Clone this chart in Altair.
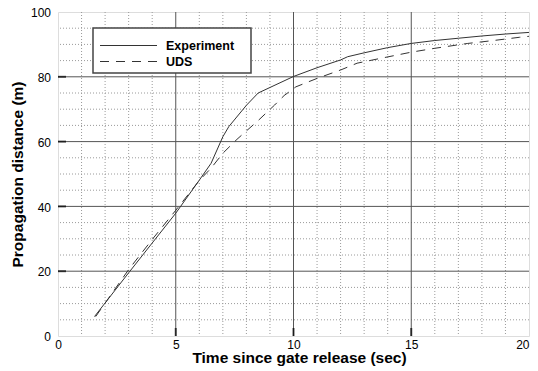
import altair as alt
import pandas as pd

# ---- data ----
exp_t = [1.55, 3, 4, 5, 6, 6.5, 7, 7.25, 8, 8.5, 9, 10, 11, 12, 12.3, 13, 14, 15, 16, 17, 18, 19, 20]
exp_d = [6, 19.5, 28.7, 37.9, 48.1, 53.3, 61.5, 64.6, 71.2, 75, 76.7, 80.1, 82.8, 85.2, 86.2, 87.4, 89, 90.3, 91.2, 91.9, 92.6, 93.2, 93.7]
uds_t = [1.6, 3, 4, 5, 6, 6.5, 7, 7.6, 8, 8.5, 9.2, 9.6, 10.1, 11, 12, 12.7, 13.7, 15, 16, 17.4, 18.5, 19.6, 20]
uds_d = [6, 20.5, 29.8, 38.8, 48, 51.8, 56.4, 60.7, 63.3, 66.5, 71.3, 74.2, 76.9, 79.5, 82.1, 84.2, 85.7, 87.6, 88.8, 90.3, 91.2, 92.2, 92.5]

x_major = [5, 10, 15]
x_minor = [1, 2, 3, 4, 6, 7, 8, 9, 11, 12, 13, 14, 16, 17, 18, 19]
y_major = [20, 40, 60, 80]
y_minor = [5, 10, 15, 25, 30, 35, 45, 50, 55, 65, 70, 75, 85, 90, 95]
x_labels = [0, 5, 10, 15, 20]
y_labels = [0, 20, 40, 60, 80, 100]
legend_labels = ["Experiment", "UDS"]

W, H = 471, 324
FONT = "Liberation Sans"

xscale = alt.Scale(domain=[0, 20], nice=False, zero=False)
yscale = alt.Scale(domain=[0, 100], nice=False, zero=False)
xaxis = alt.Axis(values=x_labels, title="Time since gate release (sec)", grid=False, ticks=False,
                 domain=False, labelFontSize=12, labelColor="black", labelFont=FONT,
                 labelPadding=3, labelAlign={"expr": "datum.value >= 20 ? 'right' : 'center'"},
                 titleFont=FONT, titleFontSize=15.5, titleFontWeight="bold",
                 titleColor="black", titleBaseline="alphabetic", titleY=26.5, titleX=241,
                 labelFlush=False)
yaxis = alt.Axis(values=y_labels, title="Propagation distance (m)", grid=False, ticks=False,
                 domain=False, labelFontSize=12, labelColor="black", labelFont=FONT,
                 labelPadding=7.5, labelOffset=0.6, titleFont=FONT, titleFontSize=15.5,
                 titleFontWeight="bold", titleColor="black", titleBaseline="alphabetic",
                 titleX=-36, labelFlush=False)


def X(f="t"):
    return alt.X(f"{f}:Q", scale=xscale, axis=xaxis)


def Y(f="d"):
    return alt.Y(f"{f}:Q", scale=yscale, axis=yaxis)


exp_df = pd.DataFrame({"t": exp_t, "d": exp_d})
uds_df = pd.DataFrame({"t": uds_t, "d": uds_d})

minor_x = alt.Chart(pd.DataFrame({"t": x_minor})).mark_rule(
    color="#9a9a9a", strokeWidth=1, strokeDash=[1, 2]).encode(x=X())
minor_y = alt.Chart(pd.DataFrame({"d": y_minor})).mark_rule(
    color="#9a9a9a", strokeWidth=1, strokeDash=[1, 2]).encode(y=Y())
major_x = alt.Chart(pd.DataFrame({"t": x_major})).mark_rule(
    color="#555555", strokeWidth=1).encode(x=X())
major_y = alt.Chart(pd.DataFrame({"d": y_major})).mark_rule(
    color="#555555", strokeWidth=1).encode(y=Y())

tick_x = alt.Chart(pd.DataFrame({"t": x_major})).mark_tick(
    color="black", thickness=2, size=8, orient="vertical").encode(x=X(), y=alt.value(H - 4))
tick_y = alt.Chart(pd.DataFrame({"d": y_major})).mark_tick(
    color="black", thickness=2, size=8, orient="horizontal").encode(y=Y(), x=alt.value(4))

exp_line = alt.Chart(exp_df).mark_line(color="#333333", strokeWidth=1).encode(x=X(), y=Y())
uds_line = alt.Chart(uds_df).mark_line(color="#333333", strokeWidth=1, strokeDash=[9, 7]).encode(x=X(), y=Y())

# legend (drawn as decoration)
box = alt.Chart(pd.DataFrame({"k": [0]})).mark_rect(
    fill="white", stroke="#444444", strokeWidth=1.5).encode(
    x=alt.value(35), x2=alt.value(193), y=alt.value(16), y2=alt.value(61))
leg1 = alt.Chart(pd.DataFrame({"k": [0]})).mark_rule(color="#333333", strokeWidth=1).encode(
    x=alt.value(42), x2=alt.value(99), y=alt.value(33.5))
leg2 = alt.Chart(pd.DataFrame({"k": [0]})).mark_rule(color="#333333", strokeWidth=1, strokeDash=[9, 7]).encode(
    x=alt.value(42), x2=alt.value(99), y=alt.value(49.5))
txt1 = alt.Chart(pd.DataFrame({"k": [0]})).mark_text(
    align="left", baseline="middle", font=FONT, fontSize=12.5, fontWeight="bold", color="black",
    text=legend_labels[0]).encode(x=alt.value(108), y=alt.value(33.5))
txt2 = alt.Chart(pd.DataFrame({"k": [0]})).mark_text(
    align="left", baseline="middle", font=FONT, fontSize=12.5, fontWeight="bold", color="black",
    text=legend_labels[1]).encode(x=alt.value(108), y=alt.value(49.5))

chart = alt.layer(
    minor_x, minor_y, major_x, major_y, exp_line, uds_line, tick_x, tick_y,
    box, leg1, leg2, txt1, txt2
).properties(
    width=W, height=H,
    autosize=alt.AutoSizeParams(type="none"),
    padding={"left": 50, "top": 4, "right": 1, "bottom": 31},
).configure_view(stroke="black", strokeWidth=2).configure(background="white")

chart.save("out.html", embed_options={"renderer": "svg", "actions": False})
